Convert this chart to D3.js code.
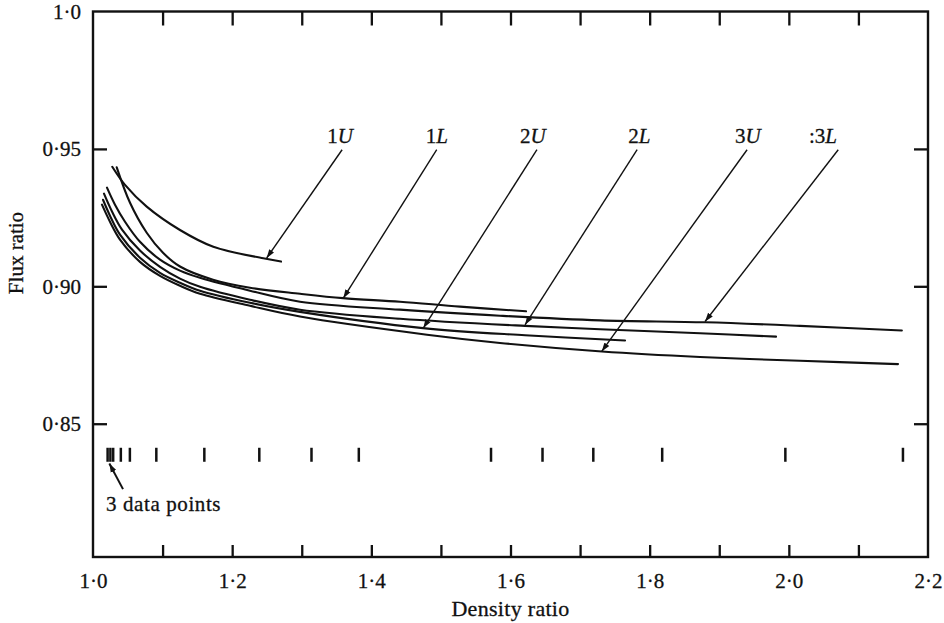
<!DOCTYPE html>
<html><head><meta charset="utf-8">
<script src="https://cdn.jsdelivr.net/npm/d3@7"></script>
<style>
body{margin:0;background:#fff;}
svg{display:block;}
svg text{font-family:"Liberation Serif","DejaVu Serif",serif;}
</style></head><body>
<svg id="chart" width="944" height="623"></svg>
<script>
// ---- axis ticks ----
const xTickMarks = [1.1,1.2,1.3,1.4,1.5,1.6,1.7,1.8,1.9,2.0,2.1];
const xTickLabels = [1.0,1.2,1.4,1.6,1.8,2.0,2.2];
const xTickText = ["1·0","1·2","1·4","1·6","1·8","2·0","2·2"];
const yTickMarks = [0.85,0.90,0.95];
const yTickLabels = [0.85,0.90,0.95,1.0];
const yTickText = ["0·85","0·90","0·95","1·0"];

// ---- curves (density ratio, flux ratio) ----
const density1U = [1.0277,1.0460,1.0772,1.1250,1.1729,1.2447,1.2702];
const flux1U    = [0.9435,0.9369,0.9290,0.9205,0.9144,0.9102,0.9090];
const density1L = [1.0341,1.0532,1.0772,1.1006,1.1250,1.1725,1.2256,1.2975,1.3593,1.4412,1.5275,1.6223];
const flux1L    = [0.9433,0.9304,0.9195,0.9122,0.9072,0.9024,0.8995,0.8973,0.8957,0.8944,0.8926,0.8909];
const density2U = [1.0144,1.0244,1.0388,1.0675,1.0963,1.1250,1.1538,1.2256,1.2975,1.4743,1.6209,1.7646];
const flux2U    = [0.9315,0.9257,0.9188,0.9104,0.9049,0.9013,0.8984,0.8940,0.8907,0.8848,0.8822,0.8803];
const density2L = [1.0158,1.0273,1.0417,1.0675,1.0963,1.1250,1.1538,1.2256,1.2975,1.4412,1.6209,1.7287,1.8724,1.9816];
const flux2L    = [0.9337,0.9272,0.9206,0.9130,0.9071,0.9028,0.8998,0.8951,0.8915,0.8882,0.8856,0.8844,0.8829,0.8817];
const density3U = [1.0129,1.0244,1.0388,1.0675,1.0963,1.1250,1.1538,1.2256,1.2975,1.4800,1.5849,1.7315,1.8724,2.0161,2.1569];
const flux3U    = [0.9297,0.9235,0.9170,0.9089,0.9038,0.9002,0.8973,0.8929,0.8890,0.8824,0.8794,0.8763,0.8743,0.8729,0.8717];
const density3L = [1.0201,1.0316,1.0460,1.0675,1.0963,1.1250,1.1538,1.2256,1.2975,1.4412,1.5849,1.7287,1.8796,2.0161,2.1624];
const flux3L    = [0.9359,0.9297,0.9235,0.9162,0.9097,0.9057,0.9031,0.8984,0.8944,0.8915,0.8893,0.8876,0.8869,0.8856,0.8839];

// ---- curve labels and their arrows ----
const curveLabelNum  = ["1","1","2","2","3",":3"];
const curveLabelLet  = ["U","L","U","L","U","L"];
const labelDensity   = [1.355,1.494,1.632,1.785,1.941,2.049];
const labelFlux      = [0.9520,0.9520,0.9520,0.9520,0.9520,0.9520];
const arrowFromDensity = [1.358,1.494,1.638,1.782,1.940,2.071];
const arrowFromFlux    = [0.9497,0.9497,0.9497,0.9497,0.9497,0.9497];
const arrowToDensity   = [1.2496,1.3597,1.4747,1.6209,1.7311,1.8796];
const arrowToFlux      = [0.9103,0.8957,0.8848,0.8860,0.8763,0.8872];

// ---- data point positions ----
const dataPointDensity = [1.021,1.025,1.029,1.040,1.053,1.091,1.160,1.239,1.314,1.382,1.572,1.646,1.719,1.818,1.995,2.164];
const dataPointFlux = 0.8387;
const noteText = "3 data points";
const noteDensity = 1.0187, noteFlux = 0.8183;
const noteArrowFrom = [1.0431,0.8262];
const noteArrowTo = [1.0235,0.8355];

const svg = d3.select("#chart");
const x = d3.scaleLinear().domain([1.0,2.2]).range([93,928]);
const y = d3.scaleLinear().domain([0.8015,1.0]).range([557,11.5]);
const ink = "#111";
const serif = "'Liberation Serif','DejaVu Serif',serif";

svg.append("defs").append("marker")
  .attr("id","ah").attr("viewBox","0 -4 10 8").attr("refX",10).attr("refY",0)
  .attr("markerWidth",9).attr("markerHeight",7).attr("markerUnits","userSpaceOnUse")
  .attr("orient","auto")
  .append("path").attr("d","M0,-3.4L10,0L0,3.4Z").attr("fill",ink);

// frame
svg.append("rect")
  .attr("x",x(1.0)).attr("y",y(1.0))
  .attr("width",x(2.2)-x(1.0)).attr("height",y(0.8015)-y(1.0))
  .attr("fill","none").attr("stroke",ink).attr("stroke-width",2.4);

function styleAxis(g){
  g.attr("font-family",serif);
  g.select(".domain").remove();
  g.selectAll(".tick line").attr("stroke",ink).attr("stroke-width",2.3);
  g.selectAll("text").attr("fill",ink).style("font-size","21px")
    .attr("font-family",serif).attr("stroke",ink).attr("stroke-width",0.3);
}
svg.append("g").attr("transform",`translate(0,${y(0.8015)})`)
  .call(d3.axisBottom(x).tickValues(xTickMarks).tickSize(-12).tickFormat(""))
  .call(styleAxis);
svg.append("g").attr("transform",`translate(0,${y(1.0)})`)
  .call(d3.axisTop(x).tickValues(xTickMarks).tickSize(-14).tickFormat(""))
  .call(styleAxis);
svg.append("g").attr("transform",`translate(${x(1.0)},0)`)
  .call(d3.axisLeft(y).tickValues(yTickMarks).tickSize(-14).tickFormat(""))
  .call(styleAxis);
svg.append("g").attr("transform",`translate(${x(2.2)},0)`)
  .call(d3.axisRight(y).tickValues(yTickMarks).tickSize(-14).tickFormat(""))
  .call(styleAxis);
// tick labels
svg.append("g").attr("transform",`translate(0,${y(0.8015)})`)
  .call(d3.axisBottom(x).tickValues(xTickLabels).tickSize(0).tickPadding(16)
        .tickFormat((d,i)=>xTickText[i]))
  .call(styleAxis);
svg.append("g").attr("transform",`translate(${x(1.0)},0)`)
  .call(d3.axisLeft(y).tickValues(yTickLabels).tickSize(0).tickPadding(12)
        .tickFormat((d,i)=>yTickText[i]))
  .call(styleAxis);

// axis titles
svg.append("text").attr("x",(x(1.0)+x(2.2))/2).attr("y",616)
  .attr("text-anchor","middle").attr("font-family",serif)
  .style("font-size","22px").style("letter-spacing","0.3px")
  .attr("fill",ink).attr("stroke",ink).attr("stroke-width",0.3)
  .text("Density ratio");
svg.append("text").attr("transform","translate(23,253) rotate(-90)")
  .attr("text-anchor","middle").attr("font-family",serif)
  .style("font-size","21px").attr("fill",ink).attr("stroke",ink).attr("stroke-width",0.3)
  .text("Flux ratio");

// curves
const series = [
  [density1U,flux1U],[density1L,flux1L],[density2U,flux2U],
  [density2L,flux2L],[density3U,flux3U],[density3L,flux3L]
];
const line = d3.line().x(d=>x(d[0])).y(d=>y(d[1])).curve(d3.curveCatmullRom.alpha(0.5));
series.forEach(([ds,fs])=>{
  svg.append("path").datum(ds.map((d,i)=>[d,fs[i]]))
    .attr("d",line).attr("fill","none").attr("stroke",ink)
    .attr("stroke-width",2.1).attr("stroke-linecap","round");
});

// curve labels + arrows
curveLabelNum.forEach((n,i)=>{
  const t = svg.append("text").attr("x",x(labelDensity[i])).attr("y",y(labelFlux[i]))
    .attr("text-anchor","middle").attr("font-family",serif)
    .style("font-size","21px").attr("fill",ink).attr("stroke",ink).attr("stroke-width",0.3);
  t.append("tspan").text(n);
  t.append("tspan").style("font-style","italic").text(curveLabelLet[i]);
  svg.append("line")
    .attr("x1",x(arrowFromDensity[i])).attr("y1",y(arrowFromFlux[i]))
    .attr("x2",x(arrowToDensity[i])).attr("y2",y(arrowToFlux[i]))
    .attr("stroke",ink).attr("stroke-width",1.4).attr("marker-end","url(#ah)");
});

// data point marks
svg.append("g").selectAll("line").data(dataPointDensity).join("line")
  .attr("x1",d=>x(d)).attr("x2",d=>x(d))
  .attr("y1",y(dataPointFlux)-7).attr("y2",y(dataPointFlux)+7)
  .attr("stroke",ink).attr("stroke-width",2.5);
svg.append("line")
  .attr("x1",x(noteArrowFrom[0])).attr("y1",y(noteArrowFrom[1]))
  .attr("x2",x(noteArrowTo[0])).attr("y2",y(noteArrowTo[1]))
  .attr("stroke",ink).attr("stroke-width",2).attr("marker-end","url(#ah)");
svg.append("text").attr("x",x(noteDensity)).attr("y",y(noteFlux))
  .attr("font-family",serif).style("font-size","21px").style("letter-spacing","0.6px")
  .attr("fill",ink).attr("stroke",ink).attr("stroke-width",0.3).text(noteText);
</script>
</body></html>
